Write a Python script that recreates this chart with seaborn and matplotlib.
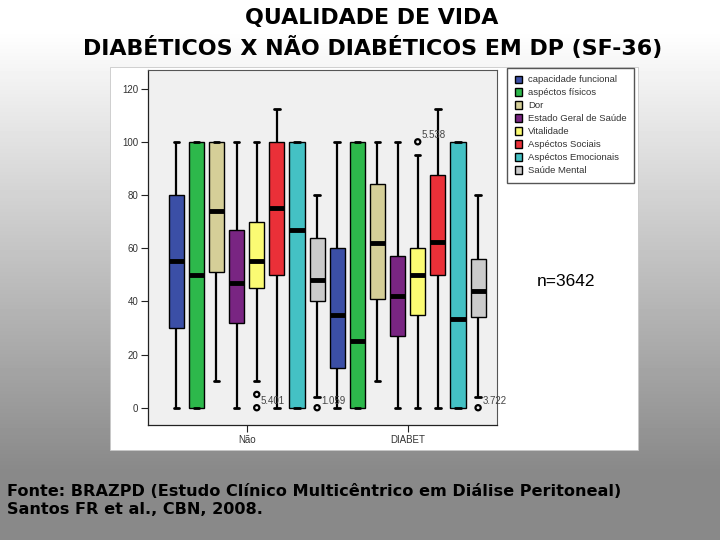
import numpy as np
import pandas as pd
import matplotlib
matplotlib.use('Agg')
import matplotlib.pyplot as plt
from matplotlib.patches import Rectangle
import seaborn as sns

# Groups and SF-36 domains
grupos = ['Não', 'DIABET']
dominios = ['capacidade funcional', 'aspéctos físicos', 'Dor', 'Estado Geral de Saúde',
            'Vitalidade', 'Aspéctos Sociais', 'Aspéctos Emocionais', 'Saúde Mental']
cores = ['#3b4fa6', '#2db84b', '#d5cf98', '#792582',
         '#fbfb73', '#ea3038', '#44c1c4', '#cbcbcb']

# five-number summaries (whisker low, Q1, median, Q3, whisker high)
nao_min = [0, 0, 10, 0, 10, 0, 0, 4]
nao_q1 = [30, 0, 51, 32, 45, 50, 0, 40]
nao_med = [55, 50, 74, 47, 55, 75, 66.7, 48]
nao_q3 = [80, 100, 100, 67, 70, 100, 100, 64]
nao_max = [100, 100, 100, 100, 100, 112.5, 100, 80]

dia_min = [0, 0, 10, 0, 0, 0, 0, 4]
dia_q1 = [15, 0, 41, 27, 35, 50, 0, 34]
dia_med = [35, 25, 62, 42, 50, 62.5, 33.3, 44]
dia_q3 = [60, 100, 84, 57, 60, 87.5, 100, 56]
dia_max = [100, 100, 100, 100, 95, 112.5, 100, 80]

# outliers: (group, domain, value)
outlier_grupo = ['Não', 'Não', 'Não', 'DIABET', 'DIABET']
outlier_dominio = ['Vitalidade', 'Vitalidade', 'Saúde Mental', 'Vitalidade', 'Saúde Mental']
outlier_valor = [5, 0, 0, 100, 0]
outlier_rotulo = ['', '5.401', '1.059', '5.538', '3.722']

yticks = [0, 20, 40, 60, 80, 100, 120]


def build_frame():
    rows = []
    resumo = {'Não': [nao_min, nao_q1, nao_med, nao_q3, nao_max],
              'DIABET': [dia_min, dia_q1, dia_med, dia_q3, dia_max]}
    for g in grupos:
        for i, d in enumerate(dominios):
            for serie in resumo[g]:
                rows.append({'grupo': g, 'dominio': d, 'escore': serie[i]})
    return pd.DataFrame(rows)


df = build_frame()

sns.set_style('ticks')
plt.rcParams['font.family'] = ['Liberation Sans', 'DejaVu Sans']

fig = plt.figure(figsize=(7.2, 5.4), dpi=100)

# slide background: vertical grey gradient
bg = fig.add_axes([0, 0, 1, 1], zorder=-10)
rows_px = np.arange(540)
shade = np.clip(255 - (rows_px - 30) * (255 - 137) / 440.0, 137, 255) / 255.0
grad = np.repeat(shade[:, None], 2, axis=1)
bg.imshow(grad, cmap='gray', vmin=0, vmax=1, aspect='auto', extent=[0, 1, 0, 1])
bg.axis('off')

# white panel holding the chart
fig.patches.append(Rectangle((110 / 720, 1 - 450 / 540), (638 - 110) / 720, (450 - 67) / 540,
                             transform=fig.transFigure, facecolor='white',
                             edgecolor='#c8c8c8', lw=0.6, zorder=-5))

ax = fig.add_axes([148 / 720, 1 - 425 / 540, (497 - 148) / 720, (425 - 70) / 540])
ax.set_facecolor('#f0f0f0')

sns.boxplot(data=df, x='grupo', y='escore', hue='dominio', order=grupos, hue_order=dominios,
            palette=cores, saturation=1, whis=(0, 100), width=1.0, gap=0.25,
            linecolor='black', linewidth=1.0, fliersize=0,
            medianprops=dict(linewidth=3.5, solid_capstyle='butt'),
            whiskerprops=dict(linewidth=1.6),
            capprops=dict(linewidth=2.0),
            capwidths=0.034,
            ax=ax)

# outliers as open circles with case labels
for g, d, v, lab in zip(outlier_grupo, outlier_dominio, outlier_valor, outlier_rotulo):
    x = grupos.index(g) + (dominios.index(d) - 3.5) / len(dominios)
    ax.scatter([x], [v], s=14, facecolors='none', edgecolors='black', linewidths=1.6, zorder=5)
    if lab:
        ax.annotate(lab, (x, v), xytext=(3, 5), textcoords='offset points',
                    fontsize=7, color='#444444', va='center', ha='left')

ax.set_xlim(-0.613, 1.555)
ax.set_ylim(-6.5, 127)
ax.set_yticks(yticks)
ax.set_xlabel('')
ax.set_ylabel('')
ax.tick_params(axis='both', direction='out', length=5, width=0.8, labelsize=7,
               labelcolor='#333333', color='#222222', pad=2)
for side in ['top', 'right']:
    ax.spines[side].set_visible(True)
    ax.spines[side].set_color('#555555')
    ax.spines[side].set_linewidth(0.8)
for side in ['left', 'bottom']:
    ax.spines[side].set_color('#222222')
    ax.spines[side].set_linewidth(0.9)

sns.move_legend(ax, 'upper left', bbox_to_anchor=(1.0287, 1.006), title=None,
                frameon=True, fancybox=False, framealpha=1, edgecolor='#555555',
                fontsize=6.8, labelspacing=0.42, handlelength=0.8, handleheight=0.8,
                handletextpad=0.6, borderpad=0.8, borderaxespad=0)
for t in ax.get_legend().get_texts():
    t.set_color('#333333')

fig.text(537 / 720, 1 - 281 / 540, 'n=3642', fontsize=12.5, ha='left', va='center',
         color='black')

fig.text(372 / 720, 1 - 18 / 540, 'QUALIDADE DE VIDA', ha='center', va='center',
         fontsize=15.9, fontweight='bold', family='DejaVu Sans', color='black')
fig.text(373 / 720, 1 - 48 / 540, 'DIABÉTICOS X NÃO DIABÉTICOS EM DP (SF-36)', ha='center',
         va='center', fontsize=15.9, fontweight='bold', family='DejaVu Sans', color='black')

fig.text(7 / 720, 1 - 492 / 540,
         'Fonte: BRAZPD (Estudo Clínico Multicêntrico em Diálise Peritoneal)',
         ha='left', va='center', fontsize=11.6, fontweight='bold', family='DejaVu Sans',
         color='black')
fig.text(7 / 720, 1 - 509 / 540, 'Santos FR et al., CBN, 2008.',
         ha='left', va='center', fontsize=11.6, fontweight='bold', family='DejaVu Sans',
         color='black')

fig.savefig('out.png', dpi=100)
